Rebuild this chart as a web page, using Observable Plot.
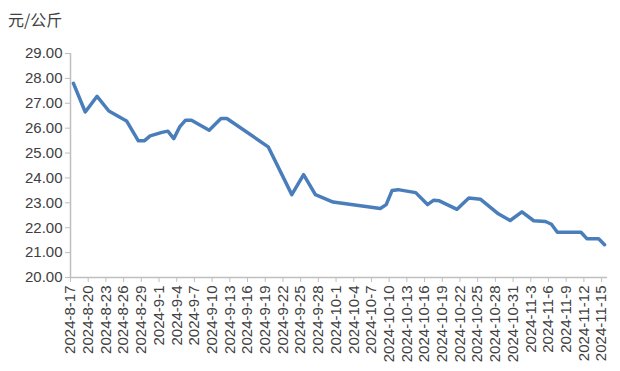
<!DOCTYPE html>
<html><head><meta charset="utf-8">
<script src="https://cdn.jsdelivr.net/npm/d3@7"></script>
<script src="https://cdn.jsdelivr.net/npm/@observablehq/plot@0.6"></script>
<style>
body{margin:0;background:#fff;}
#wrap{position:relative;width:620px;height:371px;overflow:hidden;}
#unit{position:absolute;left:8px;top:9px;font-size:16px;font-family:"Noto Sans CJK SC",sans-serif;color:#404040;line-height:20px;}
#chart{position:absolute;left:0;top:0;}
</style></head><body>
<div id="wrap"><div id="chart"></div><div id="unit">元/公斤</div></div>
<script>
const dates = ["2024-8-17","2024-8-19","2024-8-21","2024-8-23","2024-8-26","2024-8-28","2024-8-29","2024-8-30",
  "2024-9-1","2024-9-2","2024-9-3","2024-9-4","2024-9-5","2024-9-6","2024-9-9","2024-9-11","2024-9-12",
  "2024-9-19","2024-9-23","2024-9-25","2024-9-27","2024-9-30","2024-10-8","2024-10-9","2024-10-10","2024-10-11",
  "2024-10-14","2024-10-16","2024-10-17","2024-10-18","2024-10-21","2024-10-23","2024-10-25","2024-10-28",
  "2024-10-30","2024-11-1","2024-11-3","2024-11-5","2024-11-6","2024-11-7","2024-11-11","2024-11-12","2024-11-14","2024-11-15"];
const prices = [27.80,26.65,27.28,26.69,26.29,25.49,25.49,25.69,
  25.83,25.88,25.58,26.05,26.32,26.32,25.92,26.39,26.39,
  25.25,23.33,24.13,23.33,23.03,22.77,22.93,23.50,23.53,
  23.41,22.93,23.10,23.08,22.74,23.19,23.14,22.56,
  22.29,22.64,22.28,22.25,22.14,21.82,21.82,21.56,21.56,21.32];
const xTicks = ["2024-8-17","2024-8-20","2024-8-23","2024-8-26","2024-8-29","2024-9-1","2024-9-4","2024-9-7",
  "2024-9-10","2024-9-13","2024-9-16","2024-9-19","2024-9-22","2024-9-25","2024-9-28","2024-10-1","2024-10-4",
  "2024-10-7","2024-10-10","2024-10-13","2024-10-16","2024-10-19","2024-10-22","2024-10-25","2024-10-28",
  "2024-10-31","2024-11-3","2024-11-6","2024-11-9","2024-11-12","2024-11-15"];
const yTicks = [20,21,22,23,24,25,26,27,28,29];
const axisStart = "2024-8-17", axisEnd = "2024-11-16";

const parse = s => { const [y,m,d] = s.split("-").map(Number); return new Date(Date.UTC(y,m-1,d)); };
const mid = s => new Date(parse(s).getTime() + 12*3600e3);
const fmt = d => `${d.getUTCFullYear()}-${d.getUTCMonth()+1}-${d.getUTCDate()}`;
const data = dates.map((d,i)=>({date: mid(d), price: prices[i]}));

const chart = Plot.plot({
  width:620, height:371, marginTop:53, marginLeft:70, marginRight:13, marginBottom:94,
  style:{fontFamily:"'Liberation Sans', Arial, sans-serif", fontSize:"15px", color:"#404040", background:"#fff"},
  x:{type:"utc", domain:[parse(axisStart), parse(axisEnd)]},
  y:{domain:[20,29]},
  marks:[
    Plot.ruleX([parse(axisStart)], {stroke:"#bfbfbf", strokeWidth:1.5}),
    Plot.ruleY([20], {stroke:"#bfbfbf", strokeWidth:1.5}),
    Plot.axisY({ticks:yTicks, tickFormat:d=>d.toFixed(2), tickSize:5, tickPadding:3, stroke:"#bfbfbf", fill:"#404040", label:null}),
    Plot.axisX({ticks:xTicks.map(parse), tickFormat:fmt, tickRotate:-90, tickSize:5, tickPadding:3, stroke:"#bfbfbf", fill:"#404040", label:null}),
    Plot.line(data,{x:"date", y:"price", stroke:"#4a7ebb", strokeWidth:3.5, strokeLinejoin:"round", strokeLinecap:"round"})
  ]
});
document.getElementById("chart").appendChild(chart);
</script>
</body></html>
